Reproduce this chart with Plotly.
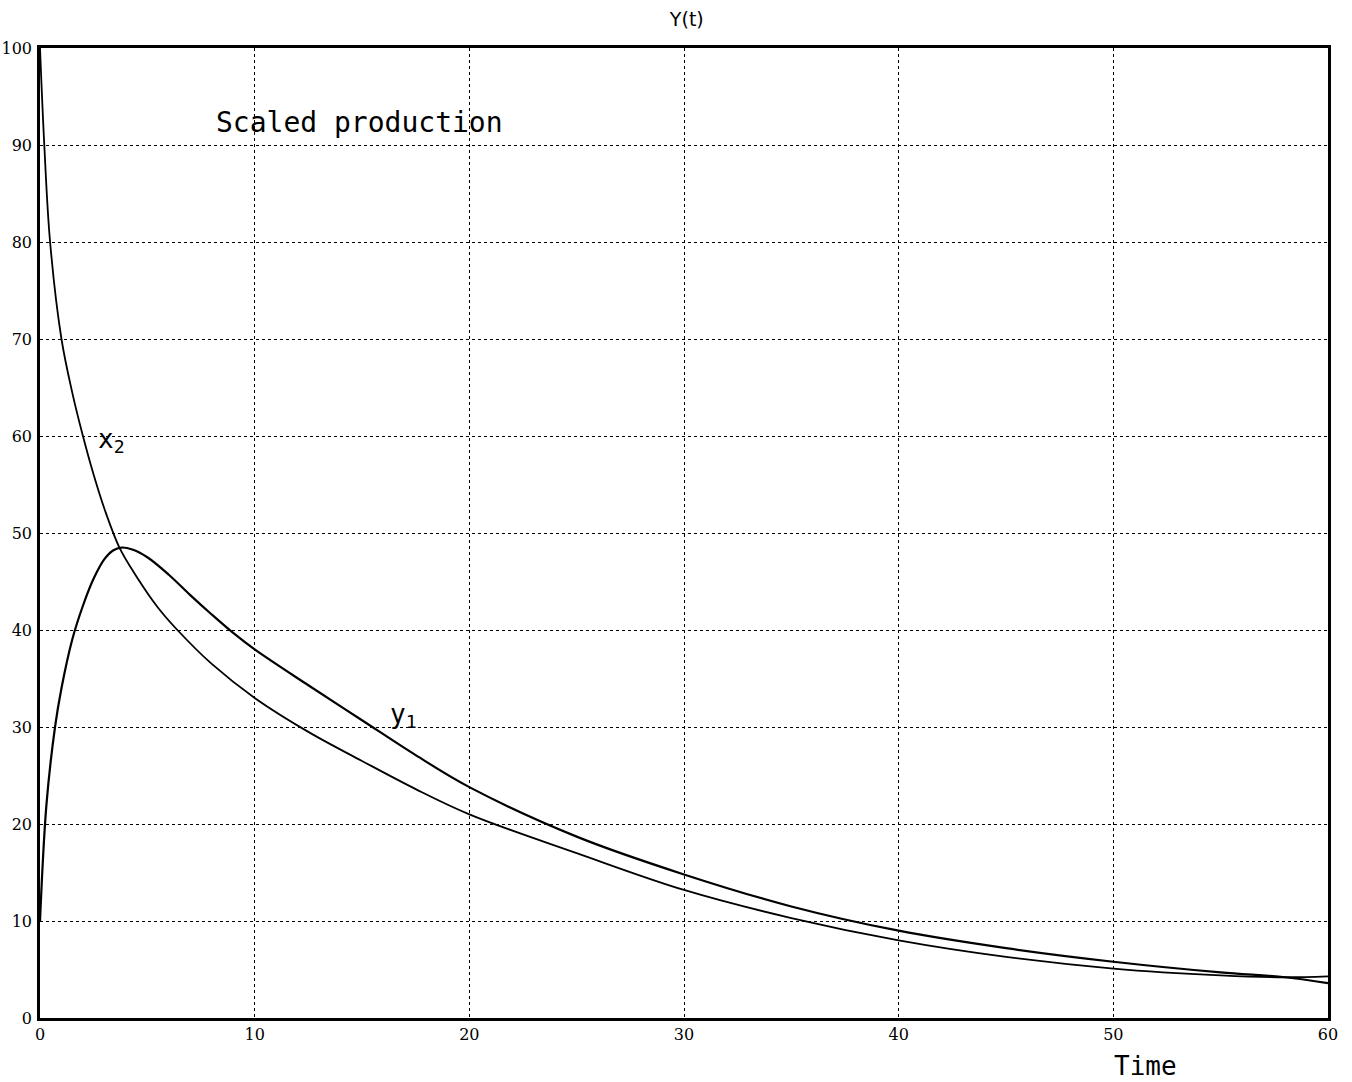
import plotly.graph_objects as go

t_x2 = [0, 0.2, 0.47, 1.0, 1.5, 2.0, 2.5, 3.0, 3.7, 4.5, 5.5, 6.4, 8, 10, 12.5, 15, 17.5, 20, 25, 30, 35, 40, 45, 50, 55, 58, 60]
x2 = [100, 90, 80, 70, 64.5, 60, 56, 52.5, 48.5, 45.5, 42.3, 40, 36.5, 33, 29.5, 26.5, 23.6, 21, 17, 13.2, 10.3, 8.0, 6.3, 5.1, 4.4, 4.2, 4.3]

t_y1 = [0, 0.3, 0.7, 1.0, 1.5, 2.0, 2.5, 3.0, 3.4, 3.8, 4.3, 5, 6, 7, 8, 9, 10, 12.5, 15, 17.5, 20, 25, 30, 35, 40, 45, 50, 55, 58, 60]
y1 = [10, 22, 30, 34, 39, 42.5, 45.3, 47.3, 48.2, 48.5, 48.3, 47.5, 45.7, 43.6, 41.6, 39.7, 38, 34.3, 30.7, 27.1, 23.8, 18.7, 14.8, 11.5, 9.0, 7.2, 5.8, 4.7, 4.2, 3.6]

x_ticks = [0, 10, 20, 30, 40, 50, 60]
y_ticks = [0, 10, 20, 30, 40, 50, 60, 70, 80, 90, 100]

fig = go.Figure()
fig.add_trace(go.Scatter(x=t_x2, y=x2, mode="lines", line=dict(color="black", width=1.8, shape="spline", smoothing=1.0), name="x2"))
fig.add_trace(go.Scatter(x=t_y1, y=y1, mode="lines", line=dict(color="black", width=2.2, shape="spline", smoothing=1.0), name="y1"))

tick_font = dict(family="DejaVu Serif", size=16, color="black")
fig.update_layout(
    width=1352, height=1082,
    margin=dict(l=40, r=24, t=48, b=64),
    paper_bgcolor="white", plot_bgcolor="white",
    showlegend=False,
    title=dict(text="Y(t)", x=0.508, xanchor="center", y=0.988, yanchor="top",
               font=dict(family="DejaVu Sans", size=19, color="black")),
    xaxis=dict(range=[0, 60], tickvals=x_ticks, ticktext=[str(v) for v in x_ticks],
               showgrid=True, gridcolor="black", griddash="dot", gridwidth=1.3,
               showline=True, linecolor="black", linewidth=2.5, mirror=True,
               ticks="", tickfont=tick_font, zeroline=False, automargin=False),
    yaxis=dict(range=[0, 100], tickvals=y_ticks, ticktext=[str(v) for v in y_ticks],
               showgrid=True, gridcolor="black", griddash="dot", gridwidth=1.3,
               showline=True, linecolor="black", linewidth=2.5, mirror=True,
               ticks="", tickfont=tick_font, zeroline=False, automargin=False, ticklabelstandoff=2),
)

mono = "DejaVu Sans Mono"
fig.add_annotation(x=8.1, y=92.3, xref="x", yref="y", text="Scaled production", showarrow=False,
                   xanchor="left", font=dict(family=mono, size=28, color="black"))
fig.add_annotation(x=2.6, y=59.5, xref="x", yref="y", text="x<sub>2</sub>", showarrow=False,
                   xanchor="left", font=dict(family=mono, size=26, color="black"))
fig.add_annotation(x=16.2, y=31.2, xref="x", yref="y", text="y<sub>1</sub>", showarrow=False,
                   xanchor="left", font=dict(family=mono, size=26, color="black"))
fig.add_annotation(x=0.858, y=0, xref="paper", yref="paper", yshift=-48, yanchor="middle",
                   text="Time", showarrow=False,
                   xanchor="center", font=dict(family=mono, size=26, color="black"))

fig.write_html("out.html")
